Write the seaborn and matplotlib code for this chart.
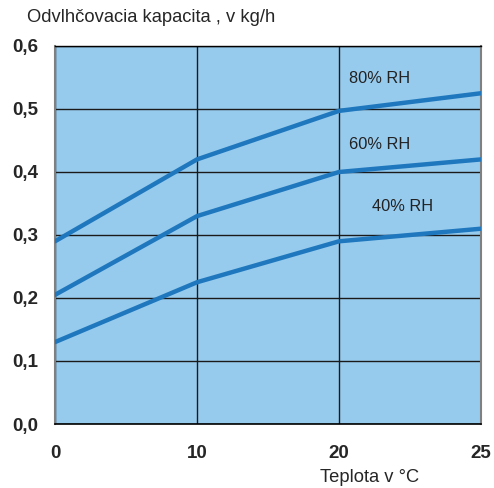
import matplotlib
matplotlib.use("Agg")
import numpy as np
import pandas as pd
import matplotlib.pyplot as plt
import seaborn as sns

# data
teploty = [0, 10, 20, 25]
rh80 = [0.29, 0.42, 0.497, 0.525]
rh60 = [0.205, 0.33, 0.40, 0.42]
rh40 = [0.13, 0.225, 0.29, 0.31]
serie_nazvy = ["80% RH", "60% RH", "40% RH"]
y_ticky = [0.0, 0.1, 0.2, 0.3, 0.4, 0.5, 0.6]

sns.set_style("white")
plt.rcParams['font.family'] = ['Liberation Sans', 'DejaVu Sans']

# x axis is equally spaced categories (0,10,20,25)
pozicie = list(range(len(teploty)))
df = pd.DataFrame({
    "pos": pozicie * 3,
    "val": rh80 + rh60 + rh40,
    "serie": [s for s in serie_nazvy for _ in teploty],
})

fig = plt.figure(figsize=(4.94, 4.88), dpi=100)
ax = fig.add_axes([55/494, 1-424/488, (481-55)/494, (424-46)/488])
ax.set_facecolor("#97cbee")

sns.lineplot(data=df, x="pos", y="val", hue="serie", palette=["#1f78be"]*3,
             linewidth=3.2, legend=False, ax=ax, zorder=3)

ax.set_xlim(0, 3)
ax.set_ylim(0, 0.6)
ax.set_xticks(pozicie)
ax.set_xticklabels([str(t) for t in teploty], fontweight="bold", fontsize=13.5)
ax.set_yticks(y_ticky)
ax.set_yticklabels([f"{v:.1f}".replace(".", ",") for v in y_ticky], fontweight="bold", fontsize=13.5)
ax.tick_params(axis="both", direction="out", length=7, width=1.2, color="black", pad=5)
ax.tick_params(axis="x", pad=8)

ax.grid(True, color="#1a1a1a", linewidth=1.0, zorder=1)
ax.set_axisbelow(True)
for s in ["left", "right"]:
    ax.spines[s].set_color("#808080")
    ax.spines[s].set_linewidth(1.5)
ax.spines["bottom"].set_color("black")
ax.spines["bottom"].set_linewidth(1.2)
ax.spines["top"].set_color("black")
ax.spines["top"].set_linewidth(1.0)

ax.set_xlabel("")
ax.set_ylabel("")

# series labels
ax.text(2.07, 0.548, "80% RH", fontsize=11.8, color="#222222", va="center")
ax.text(2.07, 0.443, "60% RH", fontsize=11.8, color="#222222", va="center")
ax.text(2.23, 0.346, "40% RH", fontsize=11.8, color="#222222", va="center")

fig.text(27/494, 1-18/488, "Odvlhčovacia kapacita , v kg/h", fontsize=13.2, va="center", ha="left")
fig.text(370/494, 1-478/488, "Teplota v °C", fontsize=13.2, va="center", ha="center")

fig.savefig("out.png", dpi=100)
